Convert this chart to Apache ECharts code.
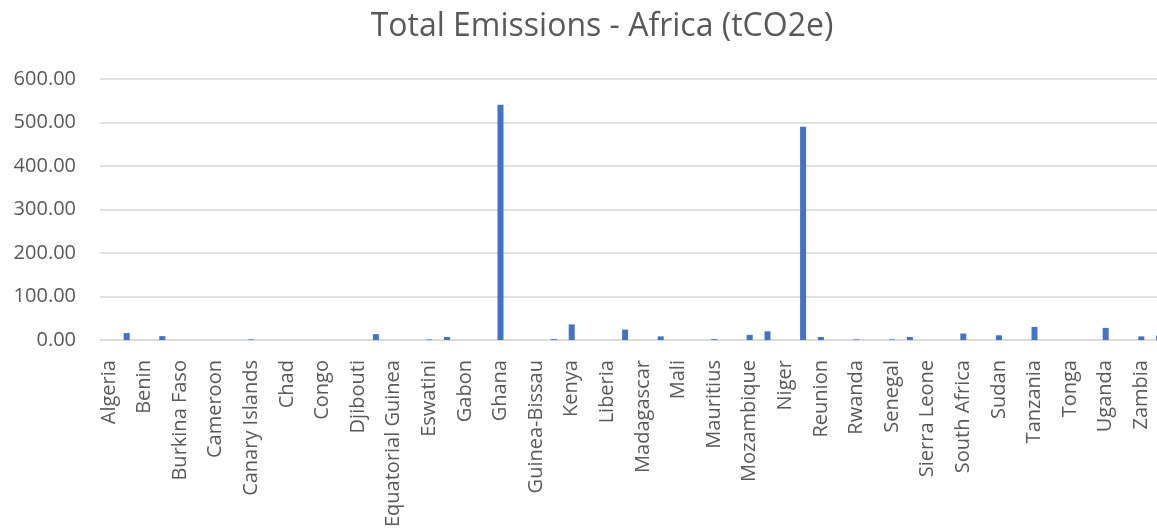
<!DOCTYPE html>
<html>
<head>
<meta charset="utf-8">
<script src="https://cdn.jsdelivr.net/npm/echarts@6/dist/echarts.min.js"></script>
<style>
  html, body { margin: 0; padding: 0; background: #ffffff; overflow: hidden; }
  /* the chart area runs a little past the right edge of the window */
  #chart { width: 1168px; height: 530px; }
</style>
</head>
<body>
<div id="chart"></div>
<script>
// Countries, in the order they appear on the category axis
const countries = [
  'Algeria', 'Angola', 'Benin', 'Botswana', 'Burkina Faso', 'Burundi',
  'Cameroon', 'Cape Verde', 'Canary Islands', 'Central African Republic',
  'Chad', 'Comoros', 'Congo', 'DR Congo', 'Djibouti', 'Egypt',
  'Equatorial Guinea', 'Eritrea', 'Eswatini', 'Ethiopia', 'Gabon', 'Gambia',
  'Ghana', 'Guinea', 'Guinea-Bissau', 'Ivory Coast', 'Kenya', 'Lesotho',
  'Liberia', 'Libya', 'Madagascar', 'Malawi', 'Mali', 'Mauritania',
  'Mauritius', 'Morocco', 'Mozambique', 'Namibia', 'Niger', 'Nigeria',
  'Reunion', 'Rodrigues', 'Rwanda', 'Sao Tome and Principe', 'Senegal',
  'Seychelles', 'Sierra Leone', 'Somalia', 'South Africa', 'South Sudan',
  'Sudan', 'Swaziland', 'Tanzania', 'Togo', 'Tonga', 'Tunisia', 'Uganda',
  'Western Sahara', 'Zambia', 'Zimbabwe'
];

// Total emissions per country (tCO2e)
const emissions = [
  0, 16, 0, 9, 0, 0,
  0, 0, 1.5, 0,
  0, 0, 0, 0, 0, 13.5,
  0, 0, 1.5, 7, 0, 0,
  541, 0, 0, 2, 36, 0,
  0, 24, 0, 8.5, 0, 0,
  2, 0, 12, 20, 0, 490,
  7, 0, 1.5, 0, 1.5,
  7, 0, 0, 15, 0,
  11, 0, 30, 0, 0, 0, 28,
  0, 8.5, 10.5
];

// Value axis ticks
const yTicks = [0, 100, 200, 300, 400, 500, 600];

const FONT = '"Open Sans", "Noto Sans", sans-serif';
const chart = echarts.init(document.getElementById('chart'), null, { renderer: 'canvas' });

chart.setOption({
  backgroundColor: '#ffffff',
  animation: false,
  title: {
    text: 'Total Emissions - Africa (tCO2e)',
    left: 597,
    top: 6,
    textAlign: 'center',
    textStyle: {
      fontFamily: FONT,
      fontSize: 32,
      fontWeight: 'normal',
      color: '#595959'
    }
  },
  grid: {
    left: 100,
    right: 0,
    top: 79,
    bottom: 188.3,
    containLabel: false
  },
  xAxis: {
    type: 'category',
    data: countries,
    boundaryGap: true,
    axisLine: { show: true, lineStyle: { color: '#d9d9d9', width: 1.5 } },
    axisTick: { show: false },
    axisLabel: {
      interval: 1,
      rotate: 90,
      margin: 20,
      fontFamily: FONT,
      fontSize: 20,
      color: '#595959'
    }
  },
  yAxis: {
    type: 'value',
    min: yTicks[0],
    max: yTicks[yTicks.length - 1],
    interval: 100,
    axisLine: { show: false },
    axisTick: { show: false },
    splitLine: { lineStyle: { color: '#d9d9d9', width: 1.5 } },
    axisLabel: {
      margin: 24,
      fontFamily: FONT,
      fontSize: 20,
      color: '#595959',
      formatter: v => v.toFixed(2)
    }
  },
  series: [{
    type: 'bar',
    data: emissions,
    barWidth: 6,
    itemStyle: { color: '#4472c4' }
  }]
});
</script>
</body>
</html>
